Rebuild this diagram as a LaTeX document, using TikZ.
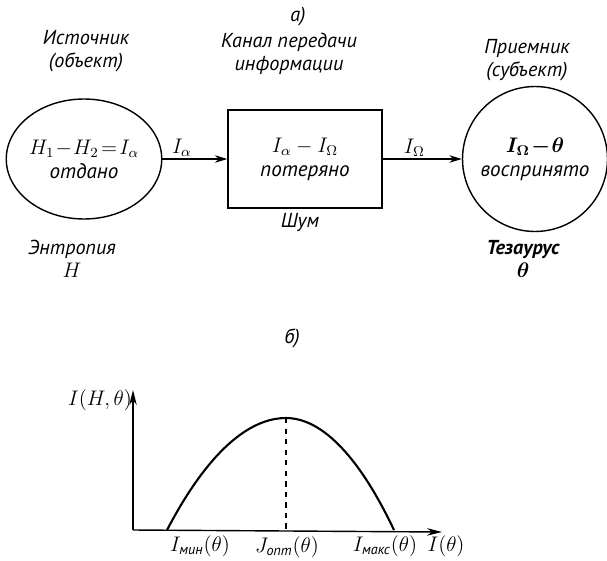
\documentclass[tikz,border=0pt]{standalone}
\usepackage{amsmath}
\usepackage{fontspec}
\setmainfont{PT Sans}
\usetikzlibrary{arrows.meta,positioning,shapes.geometric}

\begin{document}
\begin{tikzpicture}[x=0.02cm,y=-0.02cm,
    lbl/.style={font=\fontsize{11.5}{12.8}\selectfont\itshape,align=center,inner sep=1pt},
    inlbl/.style={font=\fontsize{12}{13.6}\selectfont\itshape,align=center},
    blk/.style={draw,thick},
    arr/.style={-{Stealth[length=2.5mm,width=1.5mm]},thick},
    axis/.style={-{Stealth[length=3mm,width=1.5mm]},thick}
  ]
    \useasboundingbox (0,0) rectangle (607,560);
    % a) channel scheme
    \node[lbl] (capa) at (298,17) {а)};
    \node[blk,inlbl,ellipse,minimum width=2.96cm,minimum height=2.4cm,inner sep=0pt] (src) at (84,159)
      {$H_1 \!-\! H_2 \!=\! I_\alpha$\\отдано};
    \node[blk,inlbl,minimum width=3.08cm,minimum height=1.96cm] (chan) at (305,159)
      {$I_\alpha - I_\Omega$\\потеряно};
    \node[blk,inlbl,circle,minimum size=2.9cm,inner sep=0pt] (dst) at (535,159)
      {$\boldsymbol{I_\Omega \!-\! \theta}$\\воспринято};
    \draw[arr] (src) -- node[lbl,above,pos=0.3] (ia) {$I_\alpha$} (chan);
    \draw[arr] (chan) -- node[lbl,above,pos=0.4] (iom) {$I_\Omega$} (dst);
    \node[lbl] (srcname) at (86,51) {Источник\\(объект)};
    \node[lbl] (channame) at (289,54) {Канал передачи\\информации};
    \node[lbl] (dstname) at (527,60) {Приемник\\(субъект)};
    \node[lbl] (noise) at (300,222) {Шум};
    \node[lbl] (entr) at (72,259) {Энтропия\\$H$};
    \node[lbl,font=\fontsize{11.5}{12.8}\selectfont\itshape\bfseries] (thes) at (523,259)
      {Тезаурус\\$\boldsymbol{\theta}$};
    % b) optimum curve
    \node[lbl] (capb) at (292,338) {б)};
    \coordinate (O) at (133,530);
    \coordinate (ytop) at (133,390);
    \coordinate (xend) at (442,532);
    \coordinate (lo) at (167,530);
    \coordinate (pk) at (286,418);
    \coordinate (hi) at (394,530);
    \draw[axis] (O) -- (ytop);
    \draw[axis] (O) -- (xend);
    \draw[very thick] (lo) parabola bend (pk) (hi);
    \draw[thick,dashed] (pk) -- (pk|-O);
    \node[lbl] (ylab) at (100,400) {$I(H,\theta)$};
    \node[lbl] (imin) at (200,546) {$I_{\text{мин}}(\theta)$};
    \node[lbl] (jopt) at (287,547) {$J_{\text{опт}}(\theta)$};
    \node[lbl] (imax) at (385,546) {$I_{\text{макс}}(\theta)$};
    \node[lbl] (xlab) at (446,546) {$I(\theta)$};
  \end{tikzpicture}
\end{document}
